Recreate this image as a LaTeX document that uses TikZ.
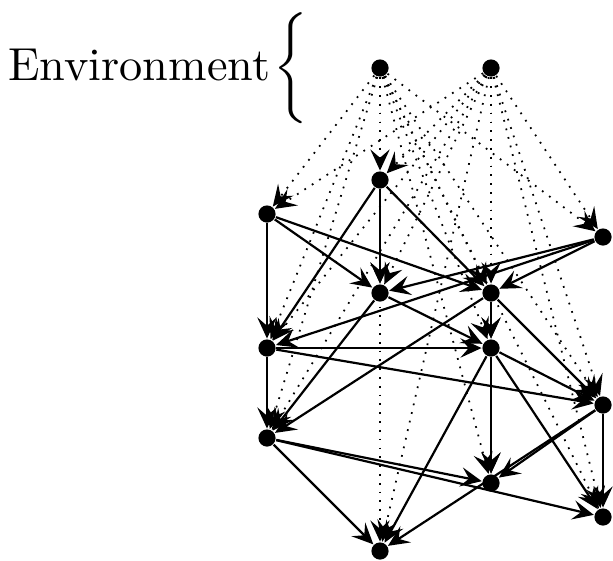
\documentclass[tikz,border=0pt]{standalone}
\usetikzlibrary{arrows.meta}
\begin{document}
\begin{tikzpicture}[x=0.227pt,y=-0.227pt,
  vtx/.style={circle,fill=black,inner sep=0pt,minimum size=3.9pt},
  tipstyle/.style={-{Stealth[length=4.8pt,width=4.4pt,inset=1.9pt]}},
  link/.style={tipstyle,line width=0.5pt},
  envlink/.style={tipstyle,line width=0.4pt,dash pattern=on 0.4pt off 1.6pt}]
\useasboundingbox (0,0) rectangle (613,560);
% label
\node[anchor=base east,inner sep=0pt,scale=1.05] (envtext) at (271,80) {Environment};
\node[anchor=west,inner sep=0pt,scale=1.05] (brace) at (273,68) {$\bigg\{$};
% nodes
\node[vtx] (e1) at (380,68) {};
\node[vtx] (e2) at (491,68) {};
\node[vtx] (a) at (380,180) {};
\node[vtx] (b) at (267,214) {};
\node[vtx] (c) at (603,237) {};
\node[vtx] (d) at (380,293) {};
\node[vtx] (f) at (491,293) {};
\node[vtx] (g) at (267,348) {};
\node[vtx] (h) at (491,348) {};
\node[vtx] (i) at (603,405) {};
\node[vtx] (j) at (267,438) {};
\node[vtx] (k) at (491,483) {};
\node[vtx] (l) at (603,517) {};
\node[vtx] (m) at (380,551) {};
% environment edges
\foreach \t in {a,b,c,d,f,g,h,i,j,k,l,m}{
  \draw[envlink] (e1) -- (\t);
  \draw[envlink] (e2) -- (\t);
}
% solid edges
\foreach \s/\t in {a/d,a/g,a/f,b/g,b/d,b/f,c/d,c/f,c/g,d/h,d/j,f/h,f/j,f/i,
  g/j,g/h,g/i,h/k,h/m,h/i,h/l,i/l,i/k,i/m,j/m,j/k,j/l}{
  \draw[link] (\s) -- (\t);
}
\end{tikzpicture}
\end{document}
